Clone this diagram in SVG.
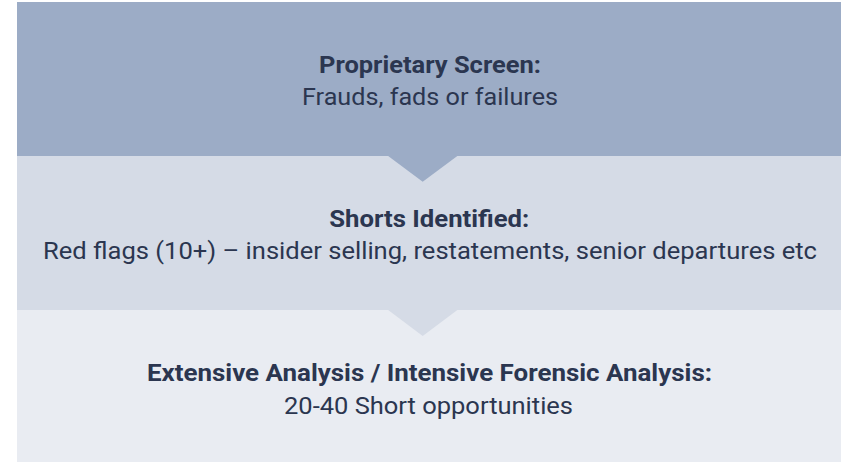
<svg xmlns="http://www.w3.org/2000/svg" width="841" height="462" viewBox="0 0 841 462">
<style>
.t{font-family:Roboto,"Liberation Sans",sans-serif;fill:#2b3650;text-anchor:middle;font-size:24px}
.b{font-weight:bold}
</style>
<rect width="841" height="462" fill="#ffffff"/>
<g id="stage3">
<rect x="17" y="310" width="824" height="152" fill="#e9ecf2"/>
<text class="t b" x="429.5" y="381" textLength="565" lengthAdjust="spacingAndGlyphs">Extensive Analysis / Intensive Forensic Analysis:</text>
<text class="t" x="428.5" y="413.5" textLength="289" lengthAdjust="spacingAndGlyphs">20-40 Short opportunities</text>
</g>
<g id="stage2">
<rect x="17" y="156" width="824" height="154" fill="#d5dbe6"/>
<text class="t b" x="429.3" y="227" textLength="200" lengthAdjust="spacingAndGlyphs">Shorts Identified:</text>
<text class="t" x="430" y="258.5" textLength="774" lengthAdjust="spacingAndGlyphs">Red flags (10+) – insider selling, restatements, senior departures etc</text>
</g>
<g id="stage1">
<rect x="17" y="2" width="824" height="154" fill="#9cacc6"/>
<text class="t b" x="430" y="73" textLength="222" lengthAdjust="spacingAndGlyphs">Proprietary Screen:</text>
<text class="t" x="430" y="105" textLength="256" lengthAdjust="spacingAndGlyphs">Frauds, fads or failures</text>
</g>
<g id="connectors">
<polygon points="387.5,155.5 458,155.5 422.7,181.7" fill="#9cacc6"/>
<polygon points="387.5,309.5 458,309.5 422.7,336" fill="#d5dbe6"/>
</g>
</svg>
